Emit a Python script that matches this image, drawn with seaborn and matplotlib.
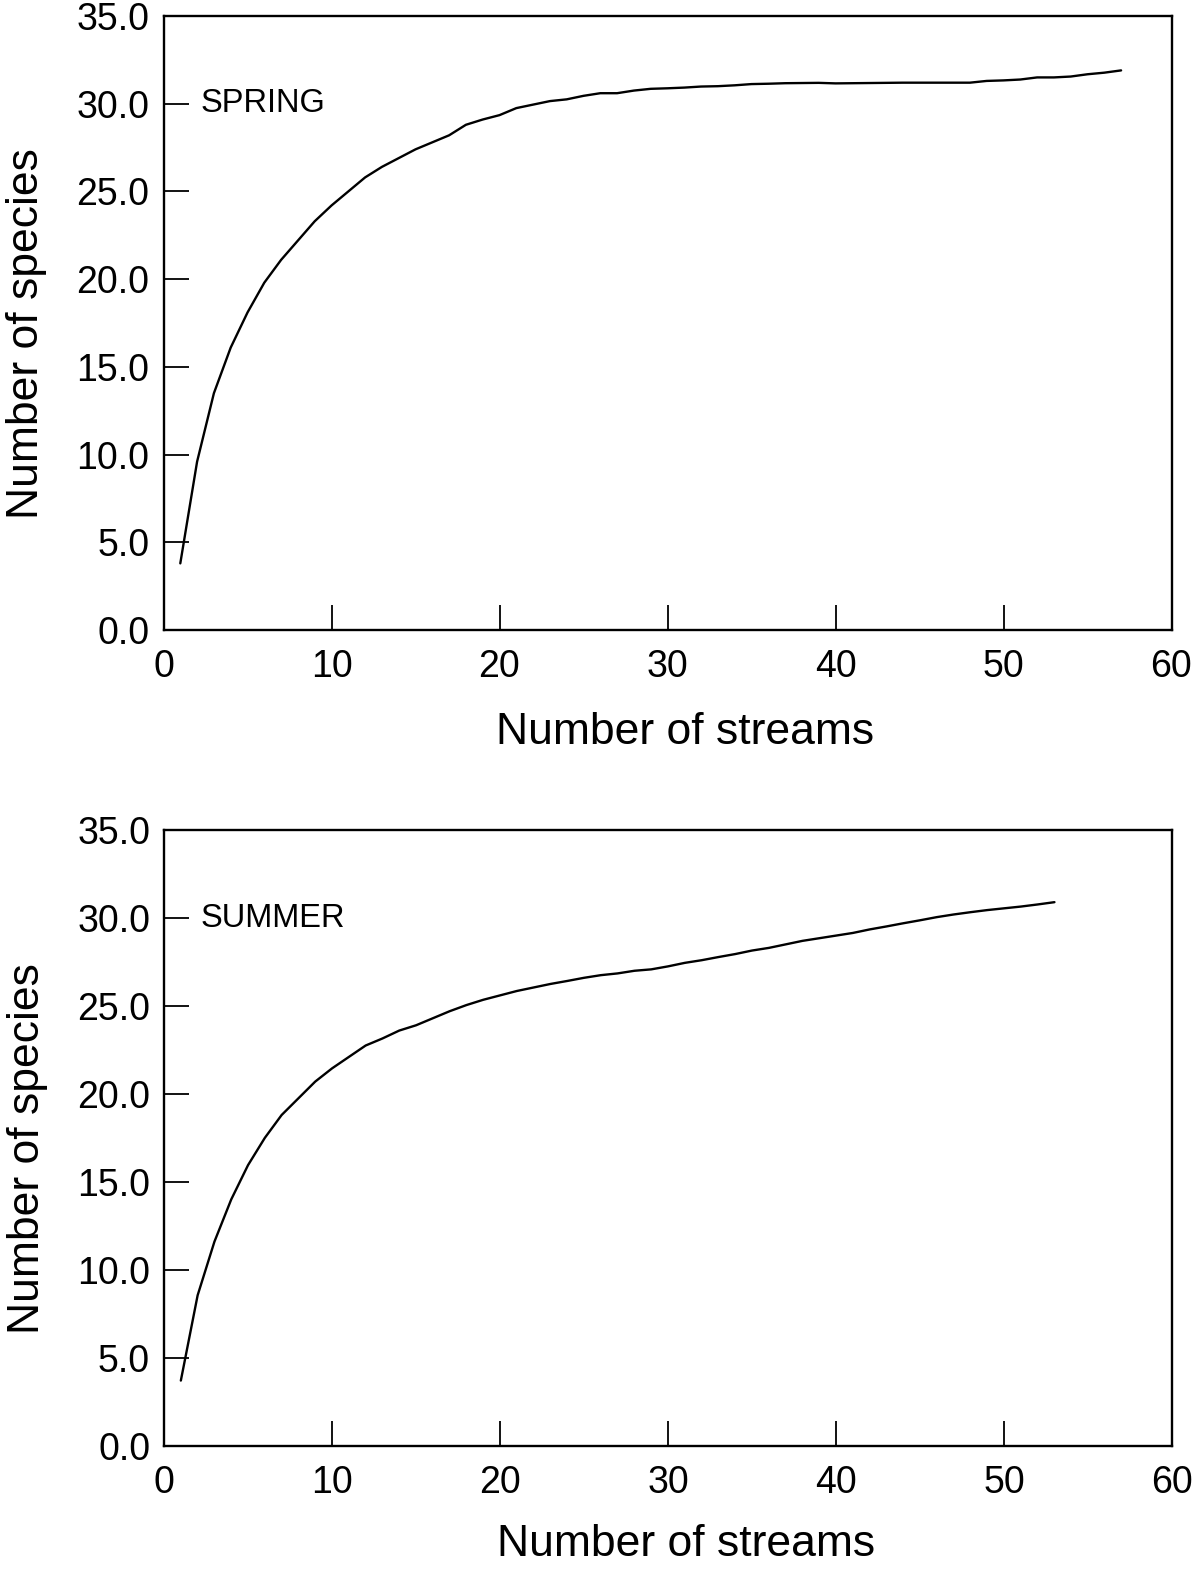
import numpy as np
import pandas as pd
import matplotlib
matplotlib.use("Agg")
import matplotlib.pyplot as plt
import seaborn as sns

spring_species = [3.8, 9.6, 13.5, 16.1, 18.1, 19.8, 21.1, 22.2, 23.3, 24.2,
                  25.0, 25.8, 26.4, 26.9, 27.4, 27.8, 28.2, 28.8, 29.1, 29.35,
                  29.75, 29.95, 30.15, 30.25, 30.45, 30.6, 30.6, 30.75, 30.85, 30.88,
                  30.92, 30.98, 31.0, 31.05, 31.12, 31.14, 31.17, 31.18, 31.19, 31.16,
                  31.17, 31.18, 31.19, 31.2, 31.2, 31.2, 31.2, 31.2, 31.3, 31.33,
                  31.38, 31.5, 31.5, 31.55, 31.68, 31.77, 31.9]
spring_streams = list(range(1, len(spring_species) + 1))

summer_species = [3.7, 8.55, 11.6, 14.0, 15.95, 17.5, 18.8, 19.75, 20.7, 21.45,
                  22.1, 22.75, 23.15, 23.6, 23.9, 24.3, 24.7, 25.05, 25.35, 25.6,
                  25.85, 26.05, 26.25, 26.42, 26.6, 26.75, 26.85, 27.0, 27.08, 27.25,
                  27.45, 27.6, 27.78, 27.95, 28.15, 28.3, 28.5, 28.7, 28.85, 29.0,
                  29.15, 29.35, 29.52, 29.7, 29.87, 30.05, 30.2, 30.33, 30.45, 30.55,
                  30.65, 30.77, 30.9]
summer_streams = list(range(1, len(summer_species) + 1))

season_labels = ["SPRING", "SUMMER"]
x_ticks = [0, 10, 20, 30, 40, 50, 60]
y_ticks = [0, 5, 10, 15, 20, 25, 30, 35]
x_label = "Number of streams"
y_label = "Number of species"

sns.set_style("ticks")
plt.rcParams['font.family'] = ['Liberation Sans', 'DejaVu Sans']
plt.rcParams['text.color'] = 'black'
plt.rcParams['axes.labelcolor'] = 'black'
plt.rcParams['xtick.color'] = 'black'
plt.rcParams['ytick.color'] = 'black'

fig = plt.figure(figsize=(12, 15.7), dpi=100)
ax1 = fig.add_axes([0.13625, 0.5987, 0.84, 0.3911])
ax2 = fig.add_axes([0.1367, 0.0792, 0.84, 0.3921])

datasets = [(spring_streams, spring_species), (summer_streams, summer_species)]
xlabel_y = [-0.134, -0.127]
for ax, (xs, ys), lab, xly in zip([ax1, ax2], datasets, season_labels, xlabel_y):
    df = pd.DataFrame({"streams": xs, "species": ys})
    sns.lineplot(data=df, x="streams", y="species", ax=ax, color="black", linewidth=1.7)
    ax.set_xlim(0, 60)
    ax.set_ylim(0, 35)
    ax.set_xticks(x_ticks)
    ax.set_xticklabels([str(t) for t in x_ticks])
    ax.set_yticks(y_ticks)
    ax.set_yticklabels([f"{t:.1f}" for t in y_ticks])
    ax.tick_params(axis="both", direction="in", length=18, width=1.3, labelsize=27,
                   colors="black", pad=10)
    ax.tick_params(axis="x", pad=14)
    for s in ax.spines.values():
        s.set_visible(True)
        s.set_linewidth(1.7)
        s.set_color("black")
    ax.set_xlabel(x_label, fontsize=32, color="black")
    ax.set_ylabel(y_label, fontsize=32, color="black")
    ax.xaxis.set_label_coords(0.5174, xly)
    ax.yaxis.set_label_coords(-0.1156, 0.483)
    ax.text(2.2, 30.0, lab, fontsize=23.5, va="center", ha="left", color="black")

fig.savefig("out.png", dpi=100, facecolor="white")
